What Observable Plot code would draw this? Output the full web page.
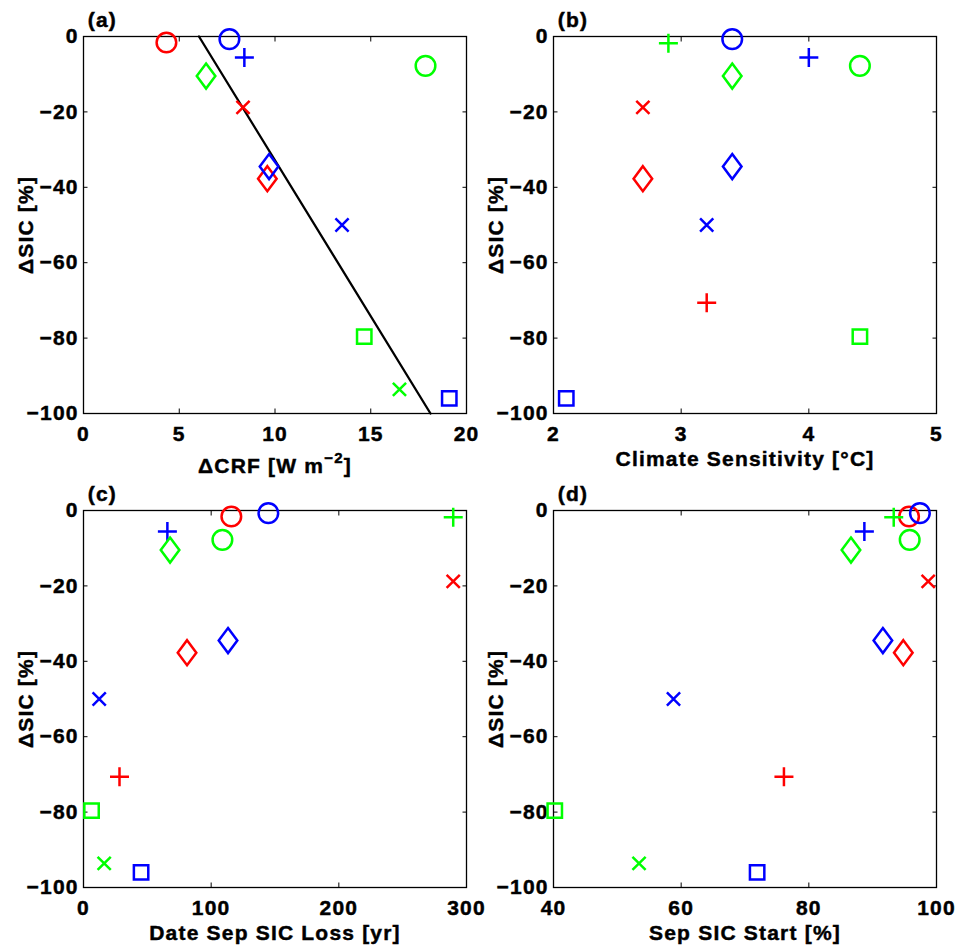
<!DOCTYPE html>
<html><head><meta charset="utf-8">
<script src="https://cdn.jsdelivr.net/npm/d3@7"></script>
<script src="https://cdn.jsdelivr.net/npm/@observablehq/plot@0.6"></script>
<style>
html,body{margin:0;padding:0;background:#fff;}
#chart{position:relative;width:957px;height:947px;overflow:hidden;background:#fff;}
#chart svg{position:absolute;}
#chart svg text{stroke:#000;stroke-width:0.45px;}
</style></head><body><div id="chart"></div>
<script>
// ---- data ----
const models   = ["M01","M02","M03","M04","M05","M06","M07","M08","M09","M10","M11","M12","M13","M14"];
const ensemble = ["E1","E2","E3","E1","E2","E3","E1","E2","E3","E1","E2","E3","E3","E2"];
const marker   = ["circle","circle","circle","plus","plus","plus","times","times","times","diamond","diamond","diamond","square","square"];
const dSIC     = [-1.6,-0.7,-7.8,-70.6,-5.6,-1.8,-18.8,-50.0,-93.6,-37.7,-34.5,-10.5,-79.6,-96.0];
const dCRF     = [4.33,7.62,17.86,null,8.4,null,8.33,13.5,16.5,9.6,9.69,6.4,14.66,19.1];
const climSens = [null,3.40,4.40,3.20,4.00,2.90,2.70,3.20,null,2.70,3.40,3.40,4.40,2.10];
const lossDate = [115.8,144.8,108.8,28.2,65.7,289.6,289.6,12.3,16.2,81.1,113.2,67.8,6.3,45.1];
const sicStart = [95.7,97.4,95.8,76.1,88.7,93.3,98.7,58.8,53.4,94.8,91.6,86.6,40.2,71.9];
const fitCRF   = [6.03, 18.12];
const fitSIC   = [0, -100];
const yTicks   = [0,-20,-40,-60,-80,-100];
const xTicksA  = [0,5,10,15,20];
const xTicksB  = [2,3,4,5];
const xTicksC  = [0,100,200,300];
const xTicksD  = [40,60,80,100];
const panelLabels = ["(a)","(b)","(c)","(d)"];
const xLabels  = ["ΔCRF [W m−2]","Climate Sensitivity [°C]","Date Sep SIC Loss [yr]","Sep SIC Start [%]"];
const yLabel   = "ΔSIC [%]";

// ---- symbols (MATLAB-like markers) ----
const rad = size => Math.sqrt(size / Math.PI);
const SYM = {
  circle:  {draw(c, size){ const s = rad(size)*0.98; c.moveTo(s,0); c.arc(0,0,s,0,2*Math.PI); c.closePath(); }},
  plus:    {draw(c, size){ const s = rad(size)*0.95; c.moveTo(-s,0); c.lineTo(s,0); c.moveTo(0,-s); c.lineTo(0,s); }},
  times:   {draw(c, size){ const s = rad(size)*0.66; c.moveTo(-s,-s); c.lineTo(s,s); c.moveTo(-s,s); c.lineTo(s,-s); }},
  diamond: {draw(c, size){ const r = rad(size), w = r*0.93, h = r*1.25; c.moveTo(0,-h); c.lineTo(w,0); c.lineTo(0,h); c.lineTo(-w,0); c.closePath(); }},
  square:  {draw(c, size){ const a = rad(size)*0.72; c.moveTo(-a,-a); c.lineTo(a,-a); c.lineTo(a,a); c.lineTo(-a,a); c.closePath(); }}
};

const panels = [
  {xs: dCRF,     domain: [0,20],   ticks: xTicksA, left: 0,   top: 0,   labelDy: 59, fit: true},
  {xs: climSens, domain: [2,5],    ticks: xTicksB, left: 470, top: 0,   labelDy: 52},
  {xs: lossDate, domain: [0,300],  ticks: xTicksC, left: 0,   top: 474, labelDy: 52},
  {xs: sicStart, domain: [40,100], ticks: xTicksD, left: 470, top: 474, labelDy: 52.5}
];

const chart = document.getElementById("chart");
const FONT = "'Liberation Sans', Arial, Helvetica, sans-serif";
const FS = 21;
const intFmt = d3.format("d");

panels.forEach((p, i) => {
  const rows = models.map((m, k) => ({model: m, ens: ensemble[k], mk: marker[k], x: p.xs[k], y: dSIC[k]}))
                     .filter(d => d.x != null);
  const fitRows = fitCRF.map((x, k) => ({x, y: fitSIC[k]}));
  const shapes = ["circle","plus","times","diamond","square"];
  const marks = [
    Plot.frame({stroke: "#000", strokeWidth: 1.3}),
    // inside ticks on all four sides
    Plot.axisX({anchor: "bottom", ticks: p.ticks, tickSize: -4.5, tickFormat: () => "", label: null}),
    Plot.axisX({anchor: "top", ticks: p.ticks, tickSize: -4.5, tickFormat: () => "", label: null}),
    Plot.axisY({anchor: "left", ticks: yTicks, tickSize: -4.5, tickFormat: () => "", label: null}),
    Plot.axisY({anchor: "right", ticks: yTicks, tickSize: -4.5, tickFormat: () => "", label: null}),
    // tick labels
    Plot.axisX({anchor: "bottom", ticks: p.ticks, tickSize: 0, tickPadding: 12.5, tickFormat: intFmt, label: null, fontSize: FS, fontWeight: "bold"}),
    Plot.axisY({anchor: "left", ticks: yTicks, tickSize: 0, tickPadding: 4.8, tickFormat: intFmt, label: null, fontSize: FS, fontWeight: "bold"}),
    // axis titles and panel label
    Plot.text([xLabels[i]], {frameAnchor: "bottom", dy: p.labelDy, lineAnchor: "bottom", textAnchor: "middle", fontSize: FS, fontWeight: "bold"}),
    Plot.text([yLabel], {frameAnchor: "left", dx: -50.4, rotate: -90, lineAnchor: "bottom", textAnchor: "middle", fontSize: FS, fontWeight: "bold"}),
    Plot.text([panelLabels[i]], {frameAnchor: "top-left", dx: 4.3, dy: -9.3, lineAnchor: "bottom", textAnchor: "start", fontSize: FS, fontWeight: "bold"})
  ];
  if (p.fit) marks.push(Plot.line(fitRows, {x: "x", y: "y", stroke: "#000", strokeWidth: 2.3}));
  shapes.forEach(s => {
    marks.push(Plot.dot(rows.filter(d => d.mk === s), {x: "x", y: "y", r: 10, symbol: SYM[s], stroke: "ens", fill: "none", strokeWidth: 2.5}));
  });
  const svg = Plot.plot({
    width: 478, height: 473,
    marginLeft: 83, marginRight: 12, marginTop: 36, marginBottom: 60,
    x: {domain: p.domain},
    y: {domain: [-100, 0]},
    color: {domain: ["E1","E2","E3"], range: ["#ff0000","#0000ff","#00ff00"]},
    style: {background: "transparent", overflow: "visible", fontFamily: FONT, color: "#000", letterSpacing: "1.2px"},
    marks
  });
  svg.style.left = p.left + "px";
  svg.style.top = p.top + "px";
  chart.appendChild(svg);
  // superscript for the ΔCRF label
  svg.querySelectorAll("text").forEach(t => {
    if (t.textContent === "ΔCRF [W m−2]") {
      const sel = d3.select(t);
      sel.text("");
      sel.append("tspan").text("ΔCRF [W m");
      sel.append("tspan").attr("dy", -10).attr("font-size", 15).text("−2");
      sel.append("tspan").attr("dy", 10).text("]");
    }
  });
});
</script></body></html>
